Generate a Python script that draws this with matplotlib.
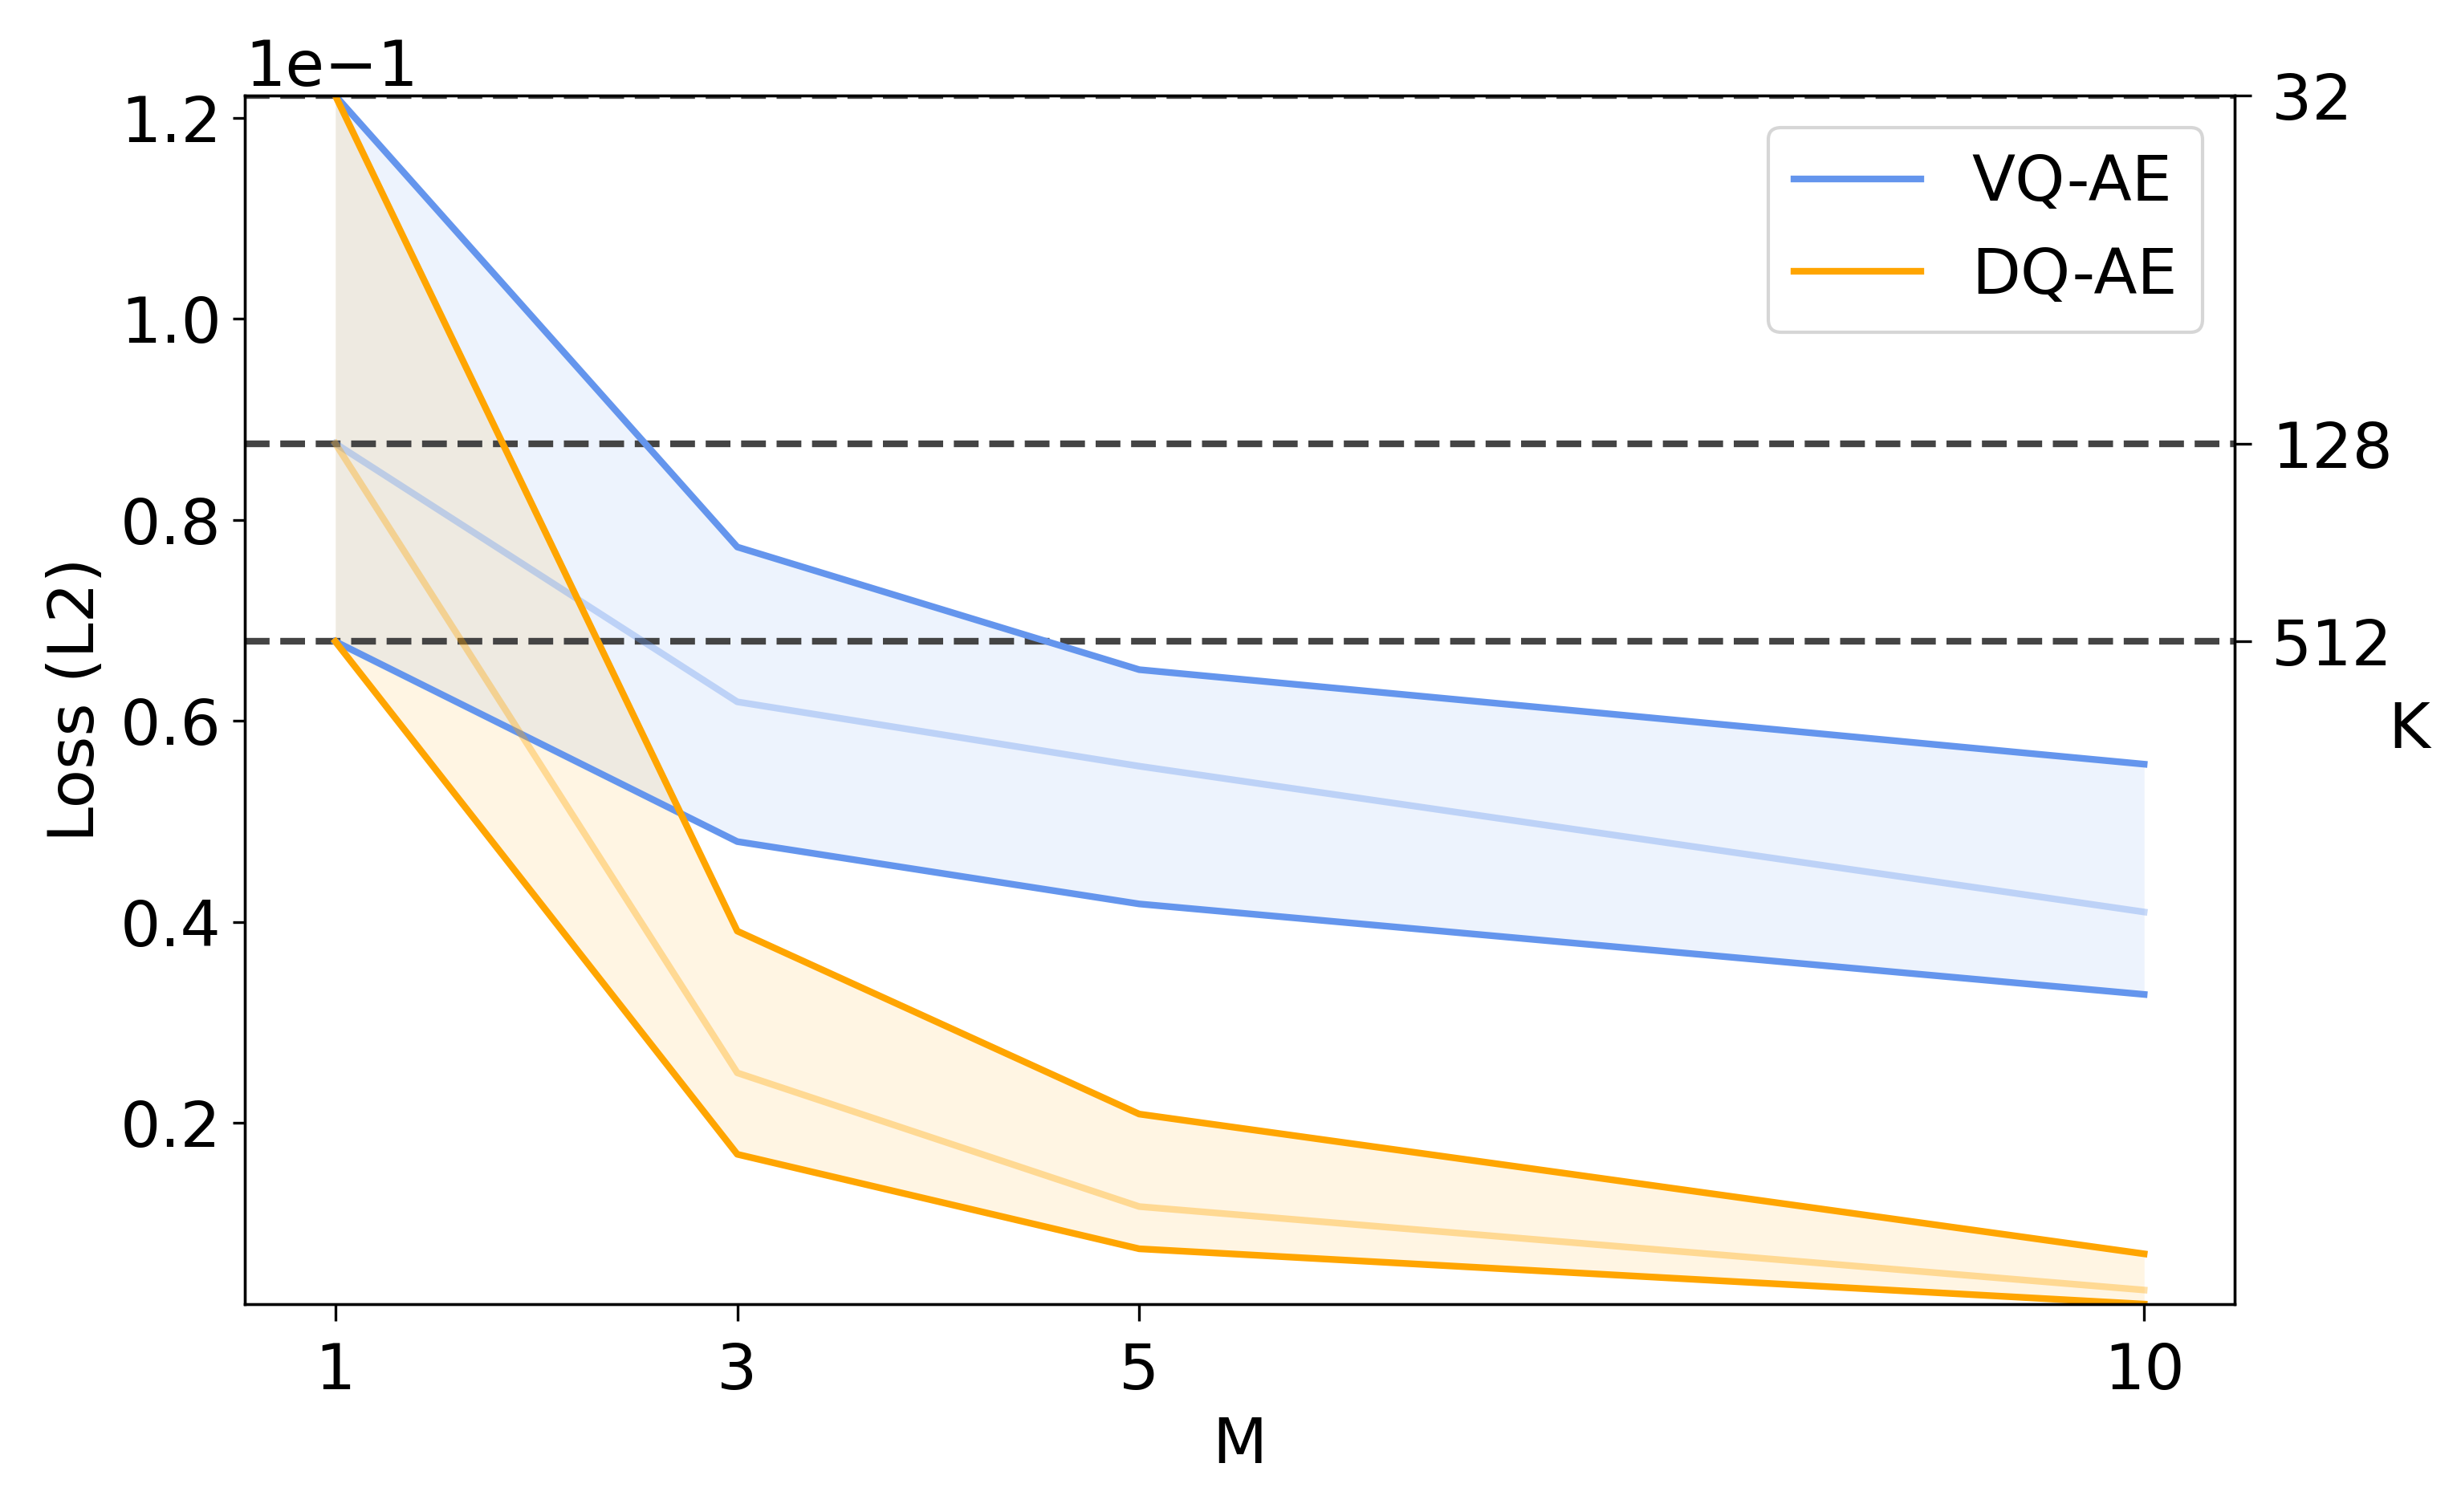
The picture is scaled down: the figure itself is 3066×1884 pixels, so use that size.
import matplotlib
matplotlib.use("Agg")
import matplotlib.pyplot as plt
import numpy as np

M_values = [1, 3, 5, 10]
K_labels = ["32", "128", "512"]

# Loss values per method for K = 32, 128, 512
vq_k32 = [0.1222, 0.0773, 0.0651, 0.0557]
vq_k128 = [0.0876, 0.0619, 0.0555, 0.0410]
vq_k512 = [0.0679, 0.0480, 0.0418, 0.0328]

dq_k32 = [0.1222, 0.0391, 0.0209, 0.0070]
dq_k128 = [0.0876, 0.0250, 0.0117, 0.0034]
dq_k512 = [0.0679, 0.0169, 0.0075, 0.0020]

# Reference loss at M=1 for each K (dashed lines)
k_ref = [0.1222, 0.0876, 0.0679]

fig, ax = plt.subplots(figsize=(10.22, 6.28), dpi=300)
fig.subplots_adjust(left=0.0995, right=0.908, top=0.9368, bottom=0.1375)

x = np.array(M_values)
fs = 19

for name, color, up, mid, lo in [("VQ-AE", "cornflowerblue", vq_k32, vq_k128, vq_k512),
                                 ("DQ-AE", "orange", dq_k32, dq_k128, dq_k512)]:
    ax.plot(x, up, color=color, lw=2, label=name)
    ax.plot(x, lo, color=color, lw=2)
    ax.plot(x, mid, color=color, lw=2, alpha=0.35)
    ax.fill_between(x, lo, up, color=color, alpha=0.11, lw=0)

for v in k_ref:
    ax.axhline(v, color="#444444", ls="--", lw=2, zorder=1)

ax.set_xticks(M_values)
ax.set_xticklabels([str(m) for m in M_values], fontsize=fs)
ax.set_ylim(min(dq_k512), max(k_ref))
ax.ticklabel_format(axis="y", style="sci", scilimits=(0, 0))
ax.yaxis.get_offset_text().set_fontsize(fs)
ax.tick_params(axis="both", labelsize=fs)
ax.tick_params(axis="x", length=5, pad=6)
ax.set_xlabel("M", fontsize=fs)
ax.set_ylabel("Loss (L2)", fontsize=fs)
ax.set_yticks([0.02, 0.04, 0.06, 0.08, 0.10, 0.12])

ax2 = ax.twinx()
ax2.set_ylim(ax.get_ylim())
ax2.set_yticks(k_ref)
ax2.set_yticklabels(K_labels, fontsize=fs)
ax2.tick_params(axis="y", length=5, pad=6)
ax2.set_ylabel("K", fontsize=fs, rotation=0, labelpad=5)

ax.legend(loc="upper right", fontsize=fs)

fig.savefig("out.png", dpi=300)
